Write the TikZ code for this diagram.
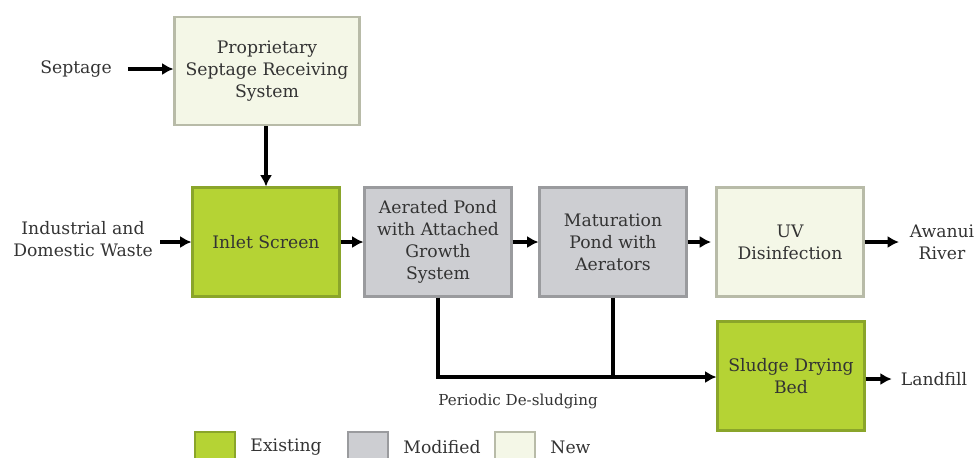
\documentclass[tikz,border=0pt]{standalone}
\usepackage{fontspec}
\setmainfont{DejaVu Serif}
\usetikzlibrary{arrows.meta,positioning}
\tikzset{>={Latex[width=7pt,length=6.5pt]}}

\definecolor{existfill}{HTML}{B5D334}
\definecolor{existline}{HTML}{8AA52A}
\definecolor{modfill}{HTML}{CDCED2}
\definecolor{modline}{HTML}{9A9B9E}
\definecolor{newfill}{HTML}{F4F7E7}
\definecolor{newline}{HTML}{B8BBA8}
\definecolor{txt}{HTML}{333333}

\tikzset{
  unit/.style={draw, line width=1.2pt, align=center, text=txt,
    minimum width=2.94cm, minimum height=2.18cm, inner sep=1pt,
    font=\fontsize{9.8}{12.4}\selectfont},
  existing/.style={unit, fill=existfill, draw=existline},
  modified/.style={unit, fill=modfill, draw=modline},
  newunit/.style={unit, fill=newfill, draw=newline},
  lbl/.style={align=center, text=txt, inner sep=1pt, font=\fontsize{9.8}{12.4}\selectfont},
  key/.style={draw, line width=1.2pt, minimum width=0.8cm, minimum height=0.6cm, inner sep=0pt},
  flow/.style={->, line width=1.9pt}
}

\begin{document}
\begin{tikzpicture}[x=0.02cm, y=-0.02cm]

  \useasboundingbox (0,0) rectangle (979,457);
  \clip (0,0) rectangle (979,457);

  %% units
  \node[newunit, minimum width=3.7cm, minimum height=2.16cm] (prop) at (267,71) {Proprietary\\Septage Receiving\\System};
  \node[existing] (inlet) at (266,242) {Inlet Screen};
  \node[modified] (aer) at (438,242) {Aerated Pond\\with Attached\\Growth\\System};
  \node[modified] (mat) at (613,242) {Maturation\\Pond with\\Aerators};
  \node[newunit] (uv) at (790,242) {UV\\Disinfection};
  \node[existing] (sludge) at (791,376) {Sludge Drying\\Bed};

  %% inputs and outputs
  \node[lbl] (septage) at (76,69) {Septage};
  \node[lbl] (waste) at (83,239) {Industrial and\\Domestic Waste};
  \node[lbl] (river) at (942,242) {Awanui\\River};
  \node[lbl] (landfill) at (934,379) {Landfill};
  \node[lbl, font=\fontsize{8.6}{10}\selectfont] (desludge) at (518,401) {Periodic De-sludging};

  \coordinate (junc) at (613,377);

  \draw[flow, shorten <=8pt] (septage) -- (prop.west |- septage); % septage in
  \draw[flow] (prop.south -| inlet) -- (inlet.north);
  \draw[flow, shorten <=3pt] (waste.east |- inlet) -- (inlet.west);
  \draw[flow] (inlet) -- (aer);
  \draw[flow] (aer) -- (mat);
  \draw[flow, shorten >=2.5pt] (mat) -- (uv);
  \draw[flow, shorten >=5pt] (uv) -- (river.west |- uv);
  \draw[flow] (aer.south) |- (sludge.west |- junc); %% de-sludging
  \draw[line width=1.9pt] (mat.south) -- (junc);
  \draw[flow, shorten >=4pt] (sludge.east |- landfill) -- (landfill);

  %% legend
  \node[key, fill=existfill, draw=existline] (kexist) at (215,447) {};
  \node[lbl, right=7pt of kexist] (texist) {Existing};
  \node[key, fill=modfill, draw=modline] (kmod) at (368,447) {};
  \node[lbl, right=7pt of kmod] (tmod) {Modified};
  \node[key, fill=newfill, draw=newline] (knew) at (515,447) {};
  \node[lbl, right=7pt of knew] (tnew) {New};

\end{tikzpicture}
\end{document}
